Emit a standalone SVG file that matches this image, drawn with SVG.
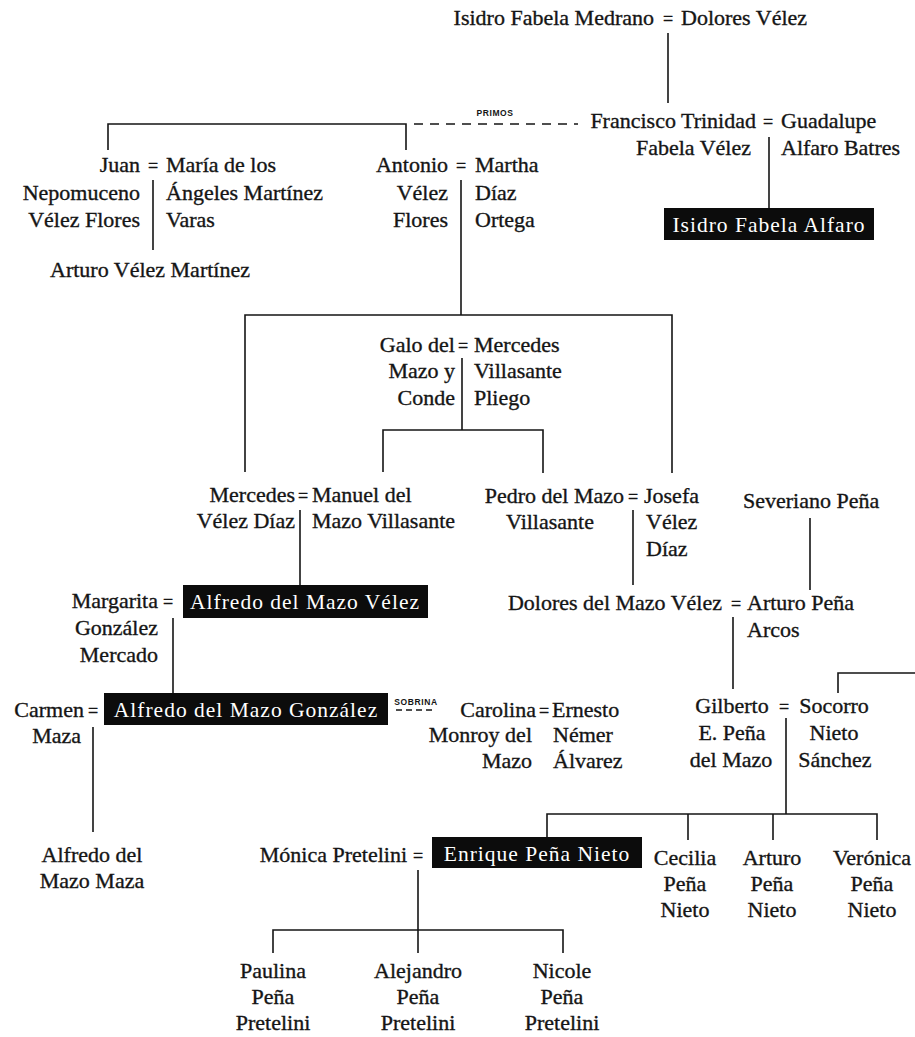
<svg xmlns="http://www.w3.org/2000/svg" width="915" height="1037" viewBox="0 0 915 1037">
<style>
text{font-family:'Liberation Serif','Times New Roman',Times,serif;font-size:22px;fill:#151515;stroke:#151515;stroke-width:0.35px}
.r{text-anchor:end}
.c{text-anchor:middle}
.eq{text-anchor:middle;font-size:18px}
.w{fill:#fff;stroke:none;letter-spacing:1px;text-anchor:middle;font-size:21.5px}
.box{fill:#0c0c0c}
.lbl{font-family:'Liberation Sans',Arial,sans-serif;font-size:8.5px;font-weight:bold;letter-spacing:0.6px;text-anchor:middle;stroke:none}
.ln{stroke:#151515;stroke-width:1.6;fill:none}
.dash{stroke:#151515;stroke-width:1.4;fill:none;stroke-dasharray:9 7}
.dash2{stroke:#151515;stroke-width:1.3;fill:none;stroke-dasharray:6 4}
</style>
<rect width="915" height="1037" fill="#fff"/>

<g id="connectors">
  <path class="ln" d="M668 33V103"/>
  <path class="ln" d="M108 150V124H406V150"/>
  <path class="dash" d="M414 124H578"/>
  <path class="ln" d="M769 137V208"/>
  <path class="ln" d="M153 180V250"/>
  <path class="ln" d="M461 180V315"/>
  <path class="ln" d="M245 472V315H672V473"/>
  <path class="ln" d="M462 358V430"/>
  <path class="ln" d="M383 472V430H543V473"/>
  <path class="ln" d="M300 510V585"/>
  <path class="ln" d="M633 510V585"/>
  <path class="ln" d="M810 518V590"/>
  <path class="ln" d="M733 617V689"/>
  <path class="ln" d="M173 618V693"/>
  <path class="ln" d="M93 727V832"/>
  <path class="dash2" d="M396 710H436"/>
  <path class="ln" d="M838 693V673H915"/>
  <path class="ln" d="M786 718V814"/>
  <path class="ln" d="M547 837V814H877V840"/>
  <path class="ln" d="M688 814V840"/>
  <path class="ln" d="M773 814V840"/>
  <path class="ln" d="M418 870V953"/>
  <path class="ln" d="M273 953V930H563V953"/>
  <text class="lbl" x="495" y="116">PRIMOS</text>
  <text class="lbl" x="416" y="705">SOBRINA</text>
</g>

<g id="isidro-fabela-medrano">
  <text class="r" x="654" y="25">Isidro Fabela Medrano</text>
  <text class="eq" x="668" y="25">=</text>
  <text x="681" y="25">Dolores Vélez</text>
</g>

<g id="francisco-trinidad">
  <text class="r" x="756" y="128">Francisco Trinidad</text>
  <text class="eq" x="768" y="128">=</text>
  <text x="781" y="128">Guadalupe</text>
  <text class="r" x="751" y="155">Fabela Vélez</text>
  <text x="781" y="155">Alfaro Batres</text>
</g>

<g id="isidro-fabela-alfaro">
  <rect class="box" x="664" y="208" width="210" height="32"/>
  <text class="w" x="769" y="232">Isidro Fabela Alfaro</text>
</g>

<g id="juan-nepomuceno">
  <text class="r" x="140" y="172">Juan</text>
  <text class="eq" x="153" y="172">=</text>
  <text x="166" y="172">María de los</text>
  <text class="r" x="140" y="200">Nepomuceno</text>
  <text class="r" x="140" y="227">Vélez Flores</text>
  <text x="166" y="200">Ángeles Martínez</text>
  <text x="166" y="227">Varas</text>
</g>

<g id="arturo-velez-martinez">
  <text x="50" y="277">Arturo Vélez Martínez</text>
</g>

<g id="antonio-velez-flores">
  <text class="r" x="448" y="172">Antonio</text>
  <text class="eq" x="461" y="172">=</text>
  <text x="475" y="172">Martha</text>
  <text class="r" x="448" y="200">Vélez</text>
  <text class="r" x="448" y="227">Flores</text>
  <text x="475" y="200">Díaz</text>
  <text x="475" y="227">Ortega</text>
</g>

<g id="galo-del-mazo">
  <text class="r" x="455" y="352">Galo del</text>
  <text class="eq" x="463" y="352">=</text>
  <text x="474" y="352">Mercedes</text>
  <text class="r" x="455" y="378">Mazo y</text>
  <text class="r" x="455" y="405">Conde</text>
  <text x="474" y="378">Villasante</text>
  <text x="474" y="405">Pliego</text>
</g>

<g id="mercedes-velez-diaz">
  <text class="r" x="295" y="502">Mercedes</text>
  <text class="eq" x="303" y="502">=</text>
  <text x="312" y="502">Manuel del</text>
  <text class="r" x="295" y="528">Vélez Díaz</text>
  <text x="312" y="528">Mazo Villasante</text>
</g>

<g id="pedro-del-mazo">
  <text class="r" x="624" y="503">Pedro del Mazo</text>
  <text class="eq" x="633" y="503">=</text>
  <text x="644" y="503">Josefa</text>
  <text class="c" x="550" y="529">Villasante</text>
  <text x="646" y="529">Vélez</text>
  <text x="646" y="556">Díaz</text>
</g>

<g id="severiano-pena">
  <text x="743" y="508">Severiano Peña</text>
</g>

<g id="dolores-del-mazo-velez">
  <text class="r" x="722" y="610">Dolores del Mazo Vélez</text>
  <text class="eq" x="736" y="610">=</text>
  <text x="747" y="610">Arturo Peña</text>
  <text x="747" y="637">Arcos</text>
</g>

<g id="alfredo-del-mazo-velez">
  <text class="r" x="158" y="608">Margarita</text>
  <text class="eq" x="168" y="608">=</text>
  <text class="r" x="158" y="635">González</text>
  <text class="r" x="158" y="662">Mercado</text>
  <rect class="box" x="183" y="585" width="245" height="33"/>
  <text class="w" x="305" y="609">Alfredo del Mazo Vélez</text>
</g>

<g id="alfredo-del-mazo-gonzalez">
  <text class="r" x="84" y="717">Carmen</text>
  <text class="eq" x="93" y="717">=</text>
  <text class="r" x="81" y="743">Maza</text>
  <rect class="box" x="104" y="693" width="284" height="32"/>
  <text class="w" x="246" y="717">Alfredo del Mazo González</text>
</g>

<g id="alfredo-del-mazo-maza">
  <text class="c" x="92" y="862">Alfredo del</text>
  <text class="c" x="92" y="888">Mazo Maza</text>
</g>

<g id="carolina-monroy">
  <text class="r" x="536" y="717">Carolina</text>
  <text class="eq" x="544" y="717">=</text>
  <text x="552" y="717">Ernesto</text>
  <text class="r" x="532" y="742">Monroy del</text>
  <text class="r" x="532" y="768">Mazo</text>
  <text x="553" y="742">Némer</text>
  <text x="553" y="768">Álvarez</text>
</g>

<g id="gilberto-pena">
  <text class="c" x="732" y="713">Gilberto</text>
  <text class="eq" x="784" y="713">=</text>
  <text class="c" x="834" y="713">Socorro</text>
  <text class="c" x="732" y="740">E. Peña</text>
  <text class="c" x="731" y="767">del Mazo</text>
  <text class="c" x="834" y="740">Nieto</text>
  <text class="c" x="835" y="767">Sánchez</text>
</g>

<g id="enrique-pena-nieto">
  <text class="r" x="407" y="862">Mónica Pretelini</text>
  <text class="eq" x="418" y="862">=</text>
  <rect class="box" x="432" y="837" width="210" height="31"/>
  <text class="w" x="537" y="861">Enrique Peña Nieto</text>
</g>

<g id="cecilia-pena-nieto">
  <text class="c" x="685" y="865">Cecilia</text>
  <text class="c" x="685" y="891">Peña</text>
  <text class="c" x="685" y="917">Nieto</text>
</g>
<g id="arturo-pena-nieto">
  <text class="c" x="772" y="865">Arturo</text>
  <text class="c" x="772" y="891">Peña</text>
  <text class="c" x="772" y="917">Nieto</text>
</g>
<g id="veronica-pena-nieto">
  <text class="c" x="872" y="865">Verónica</text>
  <text class="c" x="872" y="891">Peña</text>
  <text class="c" x="872" y="917">Nieto</text>
</g>

<g id="paulina-pena-pretelini">
  <text class="c" x="273" y="978">Paulina</text>
  <text class="c" x="273" y="1004">Peña</text>
  <text class="c" x="273" y="1030">Pretelini</text>
</g>
<g id="alejandro-pena-pretelini">
  <text class="c" x="418" y="978">Alejandro</text>
  <text class="c" x="418" y="1004">Peña</text>
  <text class="c" x="418" y="1030">Pretelini</text>
</g>
<g id="nicole-pena-pretelini">
  <text class="c" x="562" y="978">Nicole</text>
  <text class="c" x="562" y="1004">Peña</text>
  <text class="c" x="562" y="1030">Pretelini</text>
</g>
</svg>
